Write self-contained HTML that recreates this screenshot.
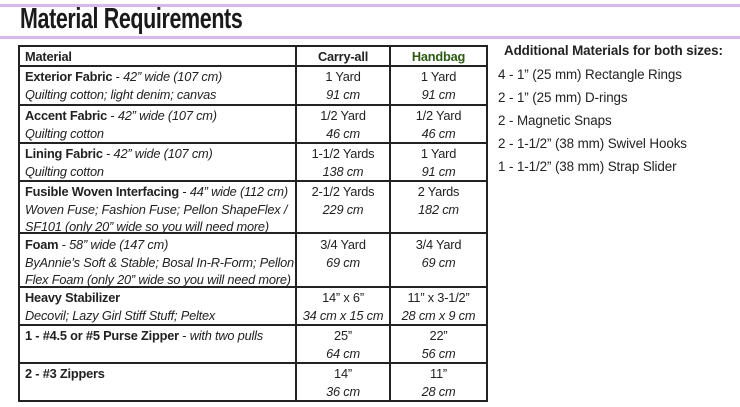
<!DOCTYPE html>
<html><head><meta charset="utf-8"><style>
body{margin:0;width:740px;height:407px;background:#fff;position:relative;overflow:hidden;font-family:"Liberation Sans",sans-serif;color:#222;}
.hl{position:absolute;left:0;width:740px;height:3px;background:#d9b8ee;}
.t{position:absolute;font-size:12.8px;letter-spacing:-0.2px;white-space:nowrap;line-height:17.5px;}
.r{font-size:13.4px;letter-spacing:-0.1px;}
.c{text-align:center;}
b{font-weight:bold;}
i{font-style:italic;}
.vl{position:absolute;width:2px;background:#222;}
.hr{position:absolute;height:2px;background:#222;left:19px;width:469px;}
</style></head><body>
<div class="hl" style="top:4px"></div>
<div class="hl" style="top:36px"></div>
<div style="position:absolute;left:20px;top:3px;font-size:29px;font-weight:bold;color:#1a1a1a;transform:scaleX(0.74);transform-origin:0 0;white-space:nowrap;letter-spacing:-0.5px;">Material Requirements</div>

<div class="vl" style="left:18px;top:45px;height:357px"></div>
<div class="vl" style="left:295px;top:45px;height:357px"></div>
<div class="vl" style="left:389px;top:45px;height:357px"></div>
<div class="vl" style="left:486px;top:45px;height:357px"></div>
<div class="hr" style="top:45px"></div>
<div class="hr" style="top:65px"></div>
<div class="hr" style="top:104px"></div>
<div class="hr" style="top:142px"></div>
<div class="hr" style="top:180px"></div>
<div class="hr" style="top:232px"></div>
<div class="hr" style="top:286px"></div>
<div class="hr" style="top:324px"></div>
<div class="hr" style="top:362px"></div>
<div class="hr" style="top:400px"></div>

<div class="t" style="left:25px;top:48px"><b>Material</b></div>
<div class="t c" style="left:297px;width:92px;top:48px"><b>Carry-all</b></div>
<div class="t c" style="left:391px;width:95px;top:48px;color:#2d5a12"><b>Handbag</b></div>

<div class="t" style="left:25px;top:68px"><b>Exterior Fabric</b> - <i>42” wide (107 cm)</i><br><i>Quilting cotton; light denim; canvas</i></div>
<div class="t c" style="left:297px;width:92px;top:68px">1 Yard<br><i>91 cm</i></div>
<div class="t c" style="left:391px;width:95px;top:68px">1 Yard<br><i>91 cm</i></div>

<div class="t" style="left:25px;top:107px"><b>Accent Fabric</b> - <i>42” wide (107 cm)</i><br><i>Quilting cotton</i></div>
<div class="t c" style="left:297px;width:92px;top:107px">1/2 Yard<br><i>46 cm</i></div>
<div class="t c" style="left:391px;width:95px;top:107px">1/2 Yard<br><i>46 cm</i></div>

<div class="t" style="left:25px;top:145px"><b>Lining Fabric</b> - <i>42” wide (107 cm)</i><br><i>Quilting cotton</i></div>
<div class="t c" style="left:297px;width:92px;top:145px">1-1/2 Yards<br><i>138 cm</i></div>
<div class="t c" style="left:391px;width:95px;top:145px">1 Yard<br><i>91 cm</i></div>

<div class="t" style="left:25px;top:183px"><b>Fusible Woven Interfacing</b> - <i>44” wide (112 cm)</i><br><i>Woven Fuse; Fashion Fuse; Pellon ShapeFlex /</i><br><i>SF101 (only 20” wide so you will need more)</i></div>
<div class="t c" style="left:297px;width:92px;top:183px">2-1/2 Yards<br><i>229 cm</i></div>
<div class="t c" style="left:391px;width:95px;top:183px">2 Yards<br><i>182 cm</i></div>

<div class="t" style="left:25px;top:236px"><b>Foam</b> - <i>58” wide (147 cm)</i><br><i>ByAnnie’s Soft &amp; Stable; Bosal In-R-Form; Pellon</i><br><i>Flex Foam (only 20” wide so you will need more)</i></div>
<div class="t c" style="left:297px;width:92px;top:236px">3/4 Yard<br><i>69 cm</i></div>
<div class="t c" style="left:391px;width:95px;top:236px">3/4 Yard<br><i>69 cm</i></div>

<div class="t" style="left:25px;top:289px"><b>Heavy Stabilizer</b><br><i>Decovil; Lazy Girl Stiff Stuff; Peltex</i></div>
<div class="t c" style="left:297px;width:92px;top:289px">14” x 6”<br><i>34 cm x 15 cm</i></div>
<div class="t c" style="left:391px;width:95px;top:289px">11” x 3-1/2”<br><i>28 cm x 9 cm</i></div>

<div class="t" style="left:25px;top:327px"><b>1 - #4.5 or #5 Purse Zipper</b> - <i>with two pulls</i></div>
<div class="t c" style="left:297px;width:92px;top:327px">25”<br><i>64 cm</i></div>
<div class="t c" style="left:391px;width:95px;top:327px">22”<br><i>56 cm</i></div>

<div class="t" style="left:25px;top:365px"><b>2 - #3 Zippers</b></div>
<div class="t c" style="left:297px;width:92px;top:365px">14”<br><i>36 cm</i></div>
<div class="t c" style="left:391px;width:95px;top:365px">11”<br><i>28 cm</i></div>

<div class="t r" style="left:504px;top:42px"><b>Additional Materials for both sizes:</b></div>
<div class="t r" style="left:498px;top:66px">4 - 1” (25 mm) Rectangle Rings</div>
<div class="t r" style="left:498px;top:89px">2 - 1” (25 mm) D-rings</div>
<div class="t r" style="left:498px;top:112px">2 - Magnetic Snaps</div>
<div class="t r" style="left:498px;top:135px">2 - 1-1/2” (38 mm) Swivel Hooks</div>
<div class="t r" style="left:498px;top:158px">1 - 1-1/2” (38 mm) Strap Slider</div>
</body></html>
